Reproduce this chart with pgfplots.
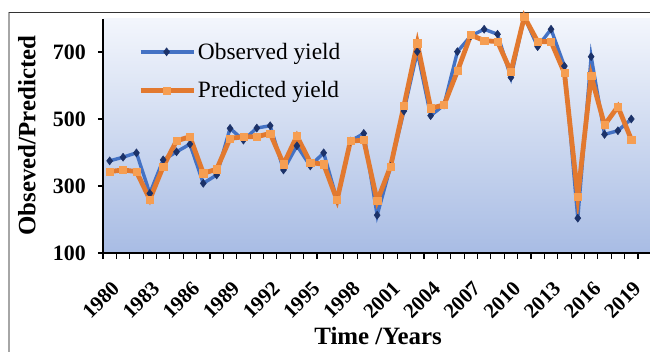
\documentclass[border=0pt]{standalone}
\usepackage{fontspec}
\setmainfont{Liberation Serif}
\usepackage{pgfplots}
\pgfplotsset{compat=1.18}
\definecolor{obsline}{RGB}{68,114,196}
\definecolor{obsmark}{RGB}{28,50,105}
\definecolor{predline}{RGB}{226,121,47}
\definecolor{predmark}{RGB}{246,158,82}
\definecolor{bgtop}{RGB}{243,246,252}
\definecolor{bgbot}{RGB}{168,188,228}
\begin{document}
\begin{tikzpicture}
\useasboundingbox (0,0) rectangle (650bp,-352bp);
\fill[white] (0,0) rectangle (650bp,-352bp);
\draw[line width=2bp, gray!70] (9bp,-12bp) -- (9bp,-352bp);
\draw[line width=1bp, black!80] (9bp,-12bp) -- (650bp,-12bp);
\begin{axis}[
  at={(103bp,-253bp)}, anchor=south west,
  scale only axis, width=547bp, height=234.5bp,
  xmin=-0.5, xmax=40.4, ymin=100, ymax=800,
  axis lines=left, axis line style={-, line width=1.3bp, black},
  axis background/.style={top color=bgtop, bottom color=bgbot},
  clip=false,
  ytick={100,300,500,700},
  xtick={0,3,...,39},
  xticklabels={1980,1983,1986,1989,1992,1995,1998,2001,2004,2007,2010,2013,2016,2019},
  minor xtick={-0.5,0.5,...,39.5},
  major x tick style={draw=none},
  tick align=outside,
  major tick length=5bp, minor tick length=6bp,
  tick style={line width=1.1bp, black},
  /pgf/number format/assume math mode=true,
  yticklabel style={font=\bfseries\fontsize{22}{22}\selectfont, inner sep=2bp, xshift=-10bp},
  xticklabel style={font=\bfseries\fontsize{21}{21}\selectfont, xshift=1bp, yshift=-22bp, rotate=45, anchor=north east, inner sep=0bp},
  xlabel={Time /Years},
  ylabel={Obseved/Predicted},
  xlabel style={font=\bfseries\fontsize{25}{25}\selectfont, at={(axis description cs:0.503,0)}, anchor=center, yshift=-83bp},
  ylabel style={font=\bfseries\fontsize{25}{25}\selectfont, at={(axis description cs:-0.139,0.5)}, anchor=center},
  legend style={draw=none, fill=none, at={(axis description cs:0.064,0.905)}, anchor=north west,
    font=\fontsize{23.5}{23.5}\selectfont, row sep=17bp, inner sep=0pt},
  legend cell align=left,
  legend image code/.code={\draw[mark repeat=2, mark phase=2, #1] plot coordinates {(0bp,0bp) (26bp,0bp) (53bp,0bp)};},
]
\addplot[obsline, line width=3.4bp, mark=diamond*, mark size=4bp, mark options={fill=obsmark, draw=obsmark, line width=0.5bp}]
 table[x=i, y=v] {
i v
0 375
1 386
2 399
3 278
4 378
5 402
6 425
7 308
8 333
9 472
10 437
11 473
12 480
13 348
14 420
15 360
16 399
17 258
18 434
19 457
20 213
21 358
22 524
23 701
24 510
25 542
26 701
27 748
28 768
29 753
30 624
31 805
32 716
33 768
34 658
35 204
36 686
37 454
38 465
39 500
};
\addlegendentry{Observed yield}
\addplot[predline, line width=4.8bp, mark=square*, mark size=3.6bp, mark options={fill=predmark, draw=predmark, line width=0.5bp}]
 table[x=i, y=v] {
i v
0 343
1 348
2 343
3 260
4 358
5 435
6 447
7 338
8 350
9 442
10 447
11 447
12 457
13 365
14 449
15 370
16 365
17 258
18 434
19 437
20 255
21 358
22 539
23 726
24 532
25 542
26 643
27 751
28 734
29 731
30 641
31 805
32 731
33 731
34 638
35 268
36 628
37 482
38 537
39 439
};
\addlegendentry{Predicted yield}
\end{axis}
\end{tikzpicture}
\end{document}
